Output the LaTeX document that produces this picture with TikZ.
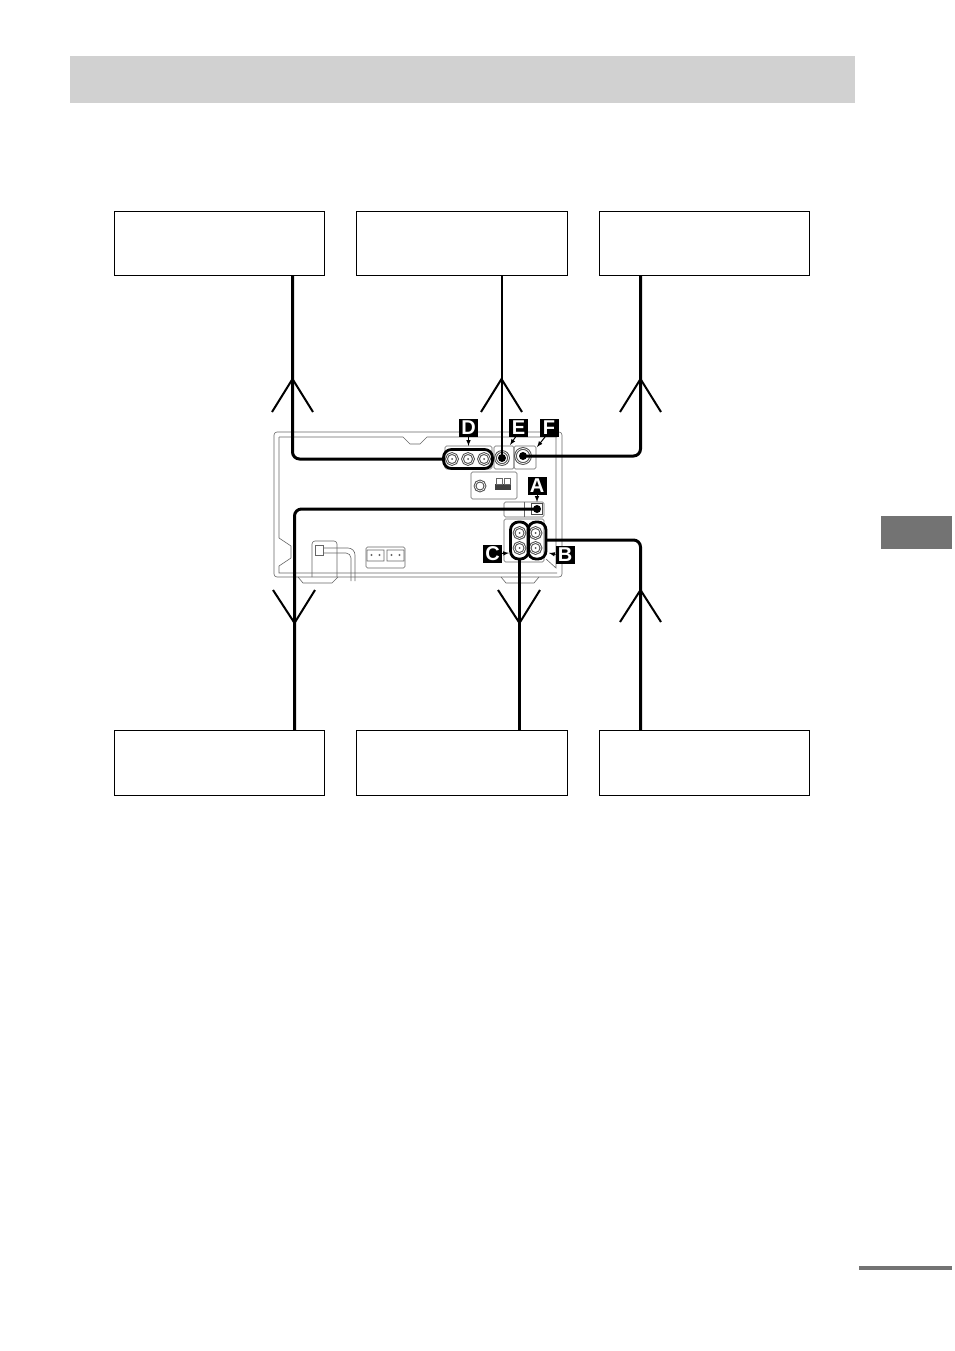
\documentclass[tikz,border=0pt]{standalone}
\usepackage{fontspec}
\setsansfont{Liberation Sans}
\begin{document}
\begin{tikzpicture}
[x=1pt,y=-1pt,every node/.style={inner sep=0pt,outer sep=0pt},box/.style={draw,line width=.8pt,minimum width=210.5pt,minimum height=64.5pt},band/.style={fill=black!18,minimum height=47pt},part/.style={draw=black!60,line width=.6pt},panel/.style={draw=black!60,line width=.6pt,rounded corners=1.5pt},jack/.style={circle,draw=black!70,line width=1pt,minimum size=11pt,double=white,double distance=.7pt},dot/.style={circle,fill=black,minimum size=8pt},capsule/.style={draw,line width=2.8pt,rounded corners=8pt},cable/.style={draw,line width=3pt,rounded corners=7pt},fork/.style={draw,line width=2pt},letter/.style={fill=black,text=white,font=\sffamily\bfseries\fontsize{20}{20}\selectfont,minimum width=19pt,minimum height=18pt},pointer/.style={draw,line width=1pt,-latex}]
\useasboundingbox (0,0) rectangle (954,1351);
% page furniture
\node[band,minimum width=785pt] (header) at (462.5,79.5) {};
\node[fill=black!55,minimum width=71pt,minimum height=33pt] (tab) at (916.5,532.5) {};
\node[fill=black!55,minimum width=93pt,minimum height=3.5pt] (rule) at (905.5,1268) {};
% boxes
\node[box] (boxd) at (219.5,243.25) {};
\node[box] (boxe) at (461.75,243.25) {};
\node[box] (boxf) at (704.25,243.25) {};
\node[box] (boxa) at (219.5,762.75) {};
\node[box] (boxc) at (461.75,762.75) {};
\node[box] (boxb) at (704.25,762.75) {};
% rear of the unit
\draw[part,rounded corners=3pt] (274,432) rectangle (562,577);
\draw[part] (279,437) -- (403,437) -- (410,444) -- (420,444) -- (427,437) -- (557,437);
\draw[part] (279,437) -- (279,538) -- (291,546) -- (291,558) -- (279,566) -- (279,573) -- (557,573);
\draw[part] (556,437) -- (556,568) -- (546,559);
\draw[part] (298,577) -- (303,583) -- (332,583) -- (338,577);
\draw[part] (501,577) -- (506,583) -- (534,583) -- (539,577);
% mains inlet and cord
\draw[panel,rounded corners=3pt] (312,577) -- (312,541) -- (337,541) -- (337,577);
\draw[part] (315,545) rectangle (323,555);
\draw[part,rounded corners=7pt] (323,548) -- (355,548) -- (355,581);
\draw[part,rounded corners=5pt] (323,553) -- (351,553) -- (351,581);
% speaker terminals
\node[panel,minimum width=39pt,minimum height=21pt] (panels) at (385.5,557.5) {};
\foreach \x in {375.5,395.5}
  \draw[part] (\x-8.5,550) rectangle (\x+8.5,561) (\x-4,555) circle (.8pt) (\x+4,555) circle (.8pt);
% panels
\node[panel,minimum width=47pt,minimum height=23pt] (paneld) at (468.5,457.5) {};
\node[panel,minimum width=20pt,minimum height=23pt] (panele) at (504,457.5) {};
\node[panel,minimum width=22pt,minimum height=23pt] (panelf) at (525,457.5) {};
\node[panel,minimum width=46pt,minimum height=27pt] (panelm) at (494,485.5) {};
\node[panel,minimum width=40pt,minimum height=15pt] (panela) at (524,509.5) {};
\node[panel,minimum width=40pt,minimum height=43pt] (panelb) at (524,540.5) {};
\draw[part] (panela.north) -- (panela.south);
\node[jack,minimum size=10pt] (jackm) at (480,486) {};
\fill[black!75] (495,484) rectangle (511,490);
\draw[part] (496,478) rectangle (502.5,484) (504,478) rectangle (510.5,484);
% jacks
\foreach \x/\n in {452/1,468/2,484/3}{
  \node[jack] (jackd\n) at (\x,459) {};
  \fill[black!70] (jackd\n) circle (1pt);
}
\foreach \x/\n in {519.5/c,535.5/b}
  \foreach \y/\m in {533/1,548/2}{
    \node[jack] (jack\n\m) at (\x,\y) {};
    \fill[black!70] (jack\n\m) circle (1pt);
  }
\node[jack,minimum size=13pt] (jacke) at (502,458) {};
\node[jack,minimum size=15pt] (jackf) at (523,456) {};
\node[draw=black!70,line width=.8pt,minimum size=11pt] (jacka) at (537,509) {};
\node[dot] (dote) at (jacke) {};
\node[dot] (dotf) at (jackf) {};
\node[dot] (dota) at (jacka) {};
% capsules
\node[capsule,minimum width=49pt,minimum height=19pt] (capd) at (468,459) {};
\node[capsule,minimum width=18pt,minimum height=37pt] (capc) at (519.5,540.5) {};
\node[capsule,minimum width=18pt,minimum height=37pt] (capb) at (537,540.5) {};
% cables
\coordinate (bendd) at (292.5,459);
\coordinate (bendf) at (640.5,456);
\coordinate (benda) at (294.5,509);
\coordinate (bendb) at (640.5,540);
\draw[cable] (bendd |- boxd.south) -- (bendd) -- (capd.west);
\draw[fork] (dote.center |- boxe.south) ++(-.5,0) -- (501.5,458);
\draw[cable] (bendf |- boxf.south) -- (bendf) -- (dotf.center);
\draw[cable] (dota.center) -- (benda) -- (benda |- boxa.north);
\draw[cable] (capc.south) -- (capc.south |- boxc.north);
\draw[cable] (capb.east |- bendb) -- (bendb) -- (bendb |- boxb.north);
% forks
\draw[fork] (272,412) -- (292.5,379) -- (313,412);
\draw[fork] (481,412) -- (501.5,379) -- (522,412);
\draw[fork] (620,412) -- (640.5,379) -- (661,412);
\draw[fork] (273,590) -- (294.5,623) -- (315,590);
\draw[fork] (498,590) -- (519.5,623) -- (540,590);
\draw[fork] (620,622) -- (640.5,590) -- (661,622);
% letters
\node[letter] (labd) at (468.5,428) {D};
\node[letter] (labe) at (518.5,428) {E};
\node[letter] (labf) at (549,428) {F};
\node[letter] (laba) at (537,485.5) {A};
\node[letter] (labc) at (492.5,553.5) {C};
\node[letter] (labb) at (565,554.5) {B};
\draw[pointer] (labd.south) -- (paneld.north);
\draw[pointer] (labe.south) ++(-3,0) -- (510,445);
\draw[pointer] (labf.south) ++(-4,0) -- (537,447);
\draw[pointer] (laba.south) -- (jacka |- panela.north);
\draw[pointer] (labc.east) -- (509,553);
\draw[pointer] (labb.west) -- (549,553);
\end{tikzpicture}
\end{document}
